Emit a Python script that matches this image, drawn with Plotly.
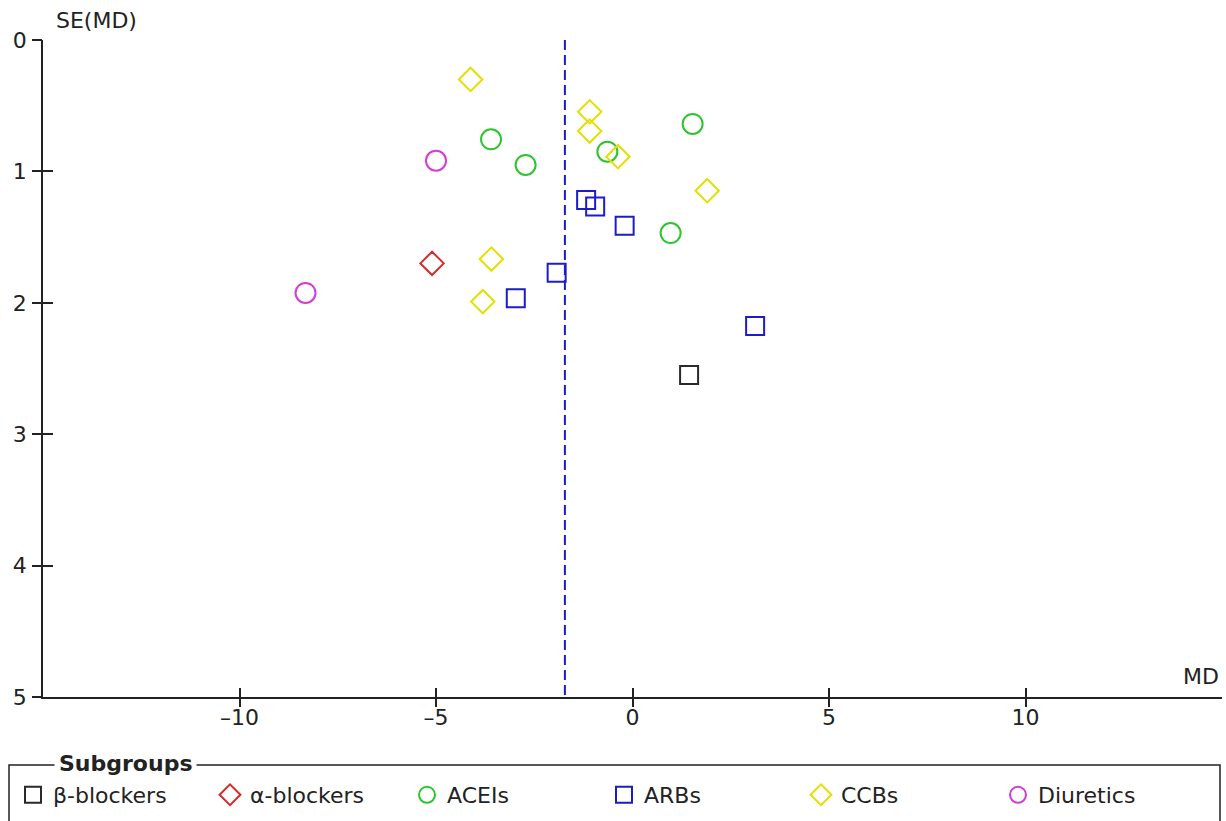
import plotly.graph_objects as go

W, H = 1226, 821
# plot area in pixels
L, R, T, B = 43, 1222, 40, 697

groups = ["β-blockers", "α-blockers", "ACEIs", "ARBs", "CCBs", "Diuretics"]
symbols = ["square-open", "diamond-open", "circle-open", "square-open", "diamond-open", "circle-open"]
colors = ["#2a2a2a", "#d42a2a", "#2ec42e", "#1c1ccc", "#e6de00", "#d43cd4"]
sizes = [18, 18, 20, 18, 18, 20]

md_beta = [1.44]
se_beta = [2.55]
md_alpha = [-5.10]
se_alpha = [1.70]
md_acei = [-3.60, -2.72, -0.64, 1.53, 0.97]
se_acei = [0.756, 0.951, 0.850, 0.639, 1.469]
md_arb = [-1.18, -0.95, -0.20, -1.93, -2.97, 3.12]
se_arb = [1.218, 1.268, 1.413, 1.771, 1.966, 2.177]
md_ccb = [-4.12, -1.09, -1.09, -0.37, 1.90, -3.59, -3.81]
se_ccb = [0.30, 0.546, 0.693, 0.888, 1.147, 1.667, 1.991]
md_diu = [-5.00, -8.32]
se_diu = [0.918, 1.925]

pooled_md = -1.72
se_range = [0, 5]

x_ticks = [-10, -5, 0, 5, 10]
x_ticktext = ["–10", "–5", "0", "5", "10"]
y_ticks = [0, 1, 2, 3, 4, 5]

FONT = "DejaVu Sans"
FS = 22


def px_x(px):
    return (px - L) / (R - L)


def px_y(py):
    return (B - py) / (B - T)


xs = [md_beta, md_alpha, md_acei, md_arb, md_ccb, md_diu]
ys = [se_beta, se_alpha, se_acei, se_arb, se_ccb, se_diu]

fig = go.Figure()
for name, sym, col, sz, x, y in zip(groups, symbols, colors, sizes, xs, ys):
    fig.add_trace(go.Scatter(
        x=x, y=y, mode="markers", name=name,
        marker=dict(symbol=sym, size=sz, color=col, line=dict(width=2, color=col)),
        cliponaxis=False,
    ))

fig.add_trace(go.Scatter(
    x=[pooled_md, pooled_md], y=se_range, mode="lines", xaxis="x2", yaxis="y2",
    line=dict(color="#1c1ccc", width=2, dash="10px,5px"), showlegend=False,
    hoverinfo="skip",
))

axis_common = dict(showgrid=False, zeroline=False, showline=True, linecolor="#222",
                   linewidth=1.5, tickcolor="#222", tickwidth=1.5,
                   tickfont=dict(family=FONT, size=FS, color="#222"))

fig.update_layout(
    width=W, height=H,
    margin=dict(l=L, r=W - R, t=T, b=H - B, autoexpand=False),
    paper_bgcolor="white", plot_bgcolor="white",
    font=dict(family=FONT, size=FS, color="#222"),
    xaxis=dict(range=[-15, 15], tickvals=x_ticks, ticktext=x_ticktext,
               ticks="inside", ticklen=9, **axis_common),
    yaxis=dict(range=[5, 0], tickvals=y_ticks, ticks="inside", ticklen=10,
               ticklabelstandoff=10, **axis_common),
    xaxis2=dict(range=[-15, 15], overlaying="x", tickvals=x_ticks,
                ticks="outside", ticklen=9, tickcolor="#222", tickwidth=1.5,
                showticklabels=False, showgrid=False, zeroline=False, showline=False,
                side="bottom", anchor="y2"),
    yaxis2=dict(range=[5, 0], overlaying="y", tickvals=y_ticks,
                ticks="outside", ticklen=10, tickcolor="#222", tickwidth=1.5,
                showticklabels=False, showgrid=False, zeroline=False, showline=False,
                side="left", anchor="x2"),
    showlegend=True,
    legend=dict(orientation="h", x=px_x(13), xanchor="left", y=px_y(774), yanchor="top",
                entrywidth=152, entrywidthmode="pixels", bgcolor="rgba(0,0,0,0)",
                font=dict(family=FONT, size=FS, color="#222"), itemclick=False,
                traceorder="normal"),
    annotations=[
        dict(text="SE(MD)", xref="paper", yref="paper", x=px_x(54), y=px_y(20),
             xanchor="left", yanchor="middle", showarrow=False,
             font=dict(family=FONT, size=FS, color="#222")),
        dict(text="MD", xref="paper", yref="paper", x=px_x(1221), y=px_y(676),
             xanchor="right", yanchor="middle", showarrow=False,
             font=dict(family=FONT, size=FS, color="#222")),
        dict(text="<b>Subgroups</b>", xref="paper", yref="paper", x=px_x(125), y=px_y(763),
             xanchor="center", yanchor="middle", showarrow=False, bgcolor="white",
             borderpad=4, font=dict(family=FONT, size=FS, color="#222")),
    ],
    shapes=[
        dict(type="rect", xref="paper", yref="paper", x0=px_x(9), x1=px_x(1220),
             y0=px_y(765), y1=px_y(840), line=dict(color="#222", width=1.5),
             fillcolor="rgba(0,0,0,0)", layer="below"),
    ],
)

fig.write_html("out.html", config={"displayModeBar": False},
               post_script="document.body.style.margin='0';document.body.style.overflow='hidden';")
